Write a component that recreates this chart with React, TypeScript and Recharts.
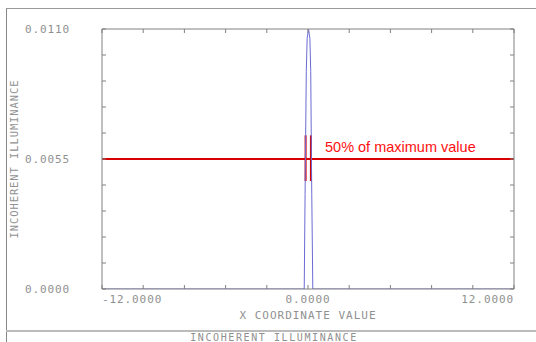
import React from 'react'
import { ComposedChart, Line, XAxis, YAxis, ReferenceLine } from 'recharts'

// illuminance profile across the spot (x in lens units)
const xs = [-12, -0.22, -0.17, -0.15, -0.1, -0.05, 0.03, 0.11, 0.16, 0.2, 0.22, 0.28, 12]
const illum = [0, 0, 0.004, 0.0055, 0.0092, 0.0106, 0.011, 0.0106, 0.0092, 0.0055, 0.004, 0, 0]

const xLabels = [-12, 0, 12]
const xTicks = [-12, -9.6, -7.2, -4.8, -2.4, 0, 2.4, 4.8, 7.2, 9.6, 12]
const yLabels = [0, 0.0055, 0.011]
const yTicks = [0, 0.0011, 0.0022, 0.0033, 0.0044, 0.0055, 0.0066, 0.0077, 0.0088, 0.0099, 0.011]

const halfMax = 0.0055
const fwhmMarks = [-0.14, 0.17]
const markSpan = [0.00457, 0.0065]

const data = xs.map((x, i) => ({ x, y: illum[i] }))

const MONO = '"DejaVu Sans Mono", monospace'
const GRAY = '#909090'
const AXIS = '#808080'

const XTick = (props: any) => {
  const v = props.payload.value
  const anchor = v < 0 ? 'start' : v > 0 ? 'end' : 'middle'
  return (
    <text x={props.x} y={props.y + 10} textAnchor={anchor} dominantBaseline="central"
      fontFamily={MONO} fontSize={11} letterSpacing={0.9} fill={GRAY}>
      {v.toFixed(4)}
    </text>
  )
}

const YTick = (props: any) => (
  <text x={props.x - 77} y={props.y} textAnchor="start" dominantBaseline="central"
    fontFamily={MONO} fontSize={11} letterSpacing={0.9} fill={GRAY}>
    {props.payload.value.toFixed(4)}
  </text>
)

const Blank = () => <g />

const NoteLabel = (props: any) => {
  const vb = props.viewBox
  return (
    <text x={vb.x + 223} y={vb.y - 7} fontFamily='"Liberation Sans", sans-serif'
      fontSize={14.5} fill="#ff1010">
      50% of maximum value
    </text>
  )
}

export default function App() {
  return (
    <div style={{ position: 'absolute', left: 0, top: 0, width: 536, height: 342, background: '#fff' }}>
      <ComposedChart width={536} height={342} data={data}
        margin={{ top: 29, right: 22, bottom: 0, left: 6 }}>
        <XAxis xAxisId="x" dataKey="x" type="number" domain={[-12, 12]} allowDataOverflow
          ticks={xLabels} tickLine={false} axisLine={false} tickSize={0} tickMargin={0}
          height={53} tick={<XTick />}
          label={{ value: 'X COORDINATE VALUE', position: 'insideTop', offset: 22,
            fill: GRAY, fontSize: 11, fontFamily: MONO, letterSpacing: 1 }} />
        <XAxis xAxisId="xb" dataKey="x" type="number" domain={[-12, 12]} allowDataOverflow
          ticks={xTicks} mirror tick={<Blank />} tickLine={{ stroke: AXIS }} tickSize={4} stroke={AXIS} />
        <XAxis xAxisId="xt" orientation="top" dataKey="x" type="number" domain={[-12, 12]} allowDataOverflow
          ticks={xTicks} mirror tick={<Blank />} tickLine={{ stroke: AXIS }} tickSize={4} stroke={AXIS} />
        <YAxis yAxisId="y" type="number" domain={[0, 0.011]} allowDataOverflow width={96}
          ticks={yLabels} tickLine={false} axisLine={false} tickSize={0} tickMargin={0}
          tick={<YTick />}
          label={{ value: 'INCOHERENT ILLUMINANCE', angle: -90, position: 'insideLeft', offset: 8,
            fill: GRAY, fontSize: 10.5, fontFamily: MONO, letterSpacing: 0.9, textAnchor: 'middle' }} />
        <YAxis yAxisId="yl" type="number" domain={[0, 0.011]} allowDataOverflow
          ticks={yTicks} mirror tick={<Blank />} tickLine={{ stroke: AXIS }} tickSize={4} stroke={AXIS} />
        <YAxis yAxisId="yr" orientation="right" type="number" domain={[0, 0.011]} allowDataOverflow
          ticks={yTicks} mirror tick={<Blank />} tickLine={{ stroke: AXIS }} tickSize={4} stroke={AXIS} />
        <ReferenceLine xAxisId="x" yAxisId="y" y={halfMax} stroke="#d80000" strokeWidth={2}
          label={<NoteLabel />} />
        {fwhmMarks.map((m) => (
          <ReferenceLine key={m} xAxisId="x" yAxisId="y" stroke="#d80000" strokeWidth={2}
            segment={[{ x: m, y: markSpan[0] }, { x: m, y: markSpan[1] }]} />
        ))}
        <Line xAxisId="x" yAxisId="y" dataKey="y" type="linear" stroke="#6b6bd4" strokeWidth={1}
          dot={false} isAnimationActive={false} />
      </ComposedChart>
      <svg width={536} height={342} style={{ position: 'absolute', left: 0, top: 0, pointerEvents: 'none' }}>
        <line x1={6.5} y1={8} x2={6.5} y2={342} stroke="#888" />
        <line x1={6} y1={8.5} x2={536} y2={8.5} stroke="#999" />
        <line x1={6} y1={331} x2={536} y2={331} stroke="#bbb" strokeWidth={2} />
        <text x={274} y={337} textAnchor="middle" dominantBaseline="central" fontFamily={MONO}
          fontSize={10} letterSpacing={1.6} fill={GRAY}>INCOHERENT ILLUMINANCE</text>
      </svg>
    </div>
  )
}
